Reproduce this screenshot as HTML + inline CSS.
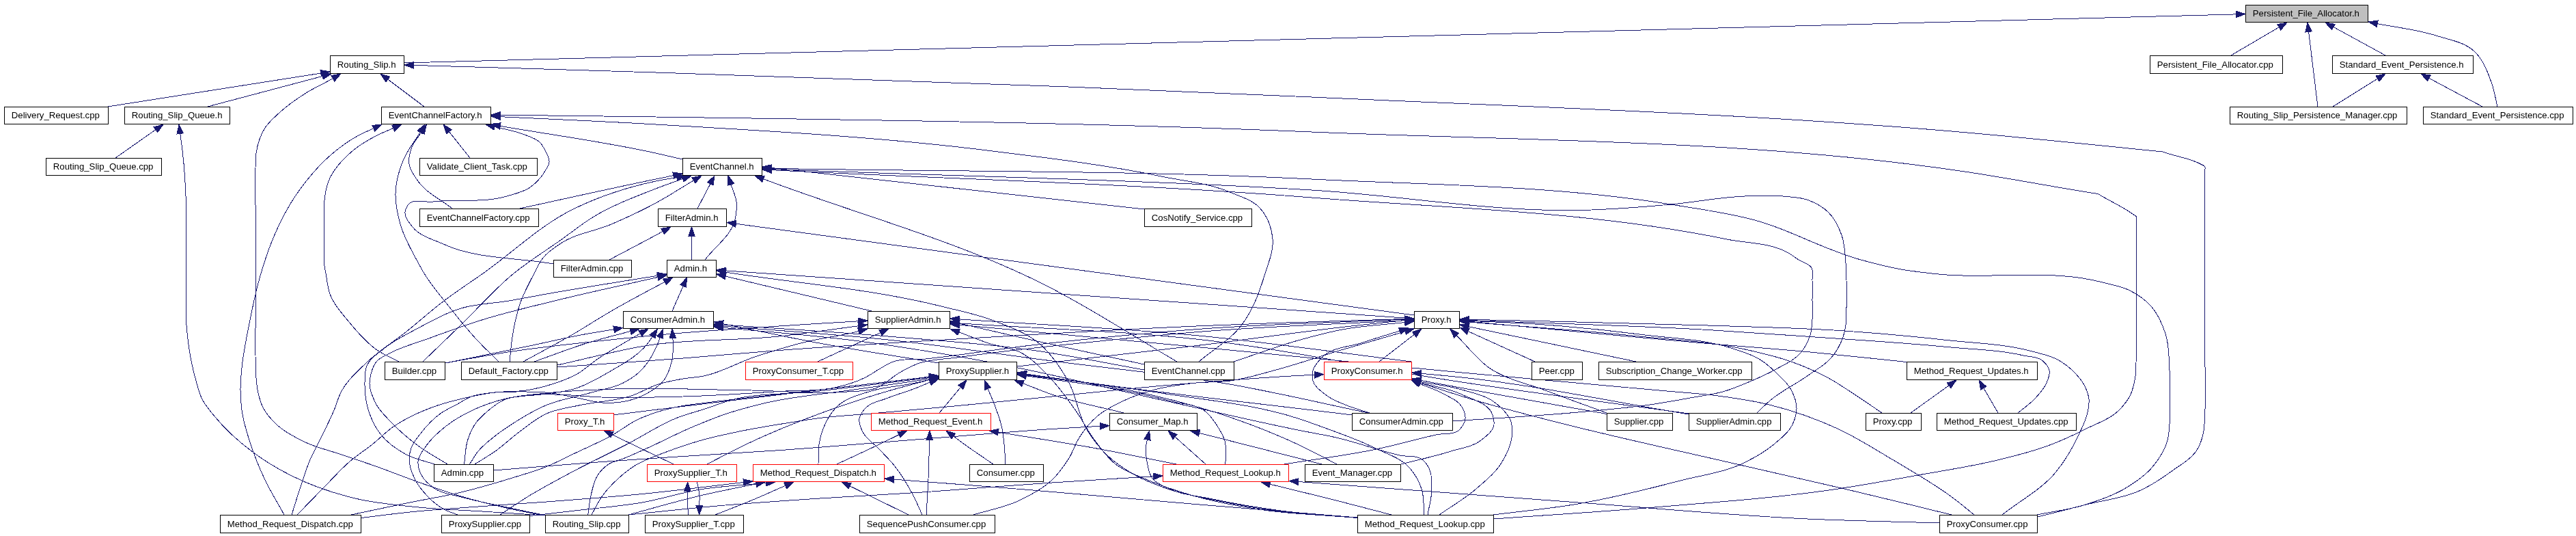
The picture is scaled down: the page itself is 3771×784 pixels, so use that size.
<!DOCTYPE html>
<html><head><meta charset="utf-8"><title>Persistent_File_Allocator.h included-by graph</title>
<style>html,body{margin:0;padding:0;background:#fff}svg{display:block;will-change:transform}text{font-family:"Liberation Sans",sans-serif;font-size:13.2px;fill:#000}</style></head><body>
<svg width="3771" height="784" viewBox="0 0 3771 784">
<rect width="3771" height="784" fill="#fff"/>
<g fill="none" stroke="#191970" stroke-width="1" shape-rendering="crispEdges">
<path d="M3266.0,81.0L3336.3,39.8"/>
<path d="M3393.0,156.0L3379.6,46.4"/>
<path d="M3492.0,81.0L3415.9,39.5"/>
<path d="M3656.0,156.0C3653.3,145.0 3651.7,133.7 3648.0,123.0C3642.0,105.8 3635.3,87.4 3622.0,75.0C3607.2,61.2 3585.2,58.2 3566.0,52.0C3538.2,43.0 3508.8,40.4 3480.2,34.7"/>
<path d="M3415.0,156.0L3480.5,115.1"/>
<path d="M3634.0,156.0L3555.9,114.4"/>
<path d="M592.0,92.0L3273.5,20.9"/>
<path d="M158.0,156.0L469.7,107.1"/>
<path d="M304.0,156.0L472.0,111.5"/>
<path d="M790.0,753.0C772.3,749.3 754.6,746.1 737.0,742.0C716.2,737.2 695.5,732.0 675.0,726.0C653.8,719.7 632.9,712.4 612.0,705.0C591.2,697.7 570.8,689.3 550.0,682.0C533.4,676.1 516.7,670.7 500.0,665.0C481.7,658.7 462.4,654.6 445.0,646.0C430.9,639.1 416.4,631.8 405.0,621.0C397.8,614.2 390.7,606.8 386.0,598.0C382.1,590.9 379.9,582.9 378.0,575.0C375.6,565.2 375.1,555.0 374.5,545.0C374.0,536.7 374.1,528.3 374.0,520.0C373.8,506.7 374.0,493.3 374.0,480.0C374.0,453.3 374.0,426.7 374.0,400.0C374.0,366.7 374.0,333.3 374.0,300.0C374.0,281.7 373.4,263.3 374.0,245.0C374.2,238.0 374.0,230.9 375.0,224.0C376.9,211.1 380.9,198.0 388.0,187.0C393.8,178.1 402.2,171.1 410.0,164.0C421.6,153.4 434.7,144.4 448.0,136.0C459.9,128.5 472.8,122.9 485.0,116.0C485.8,115.6 486.5,115.1 487.3,114.7"/>
<path d="M621.0,156.0L567.8,116.1"/>
<path d="M2983.0,756.0C3005.3,750.3 3027.7,744.8 3050.0,739.0C3078.7,731.5 3109.3,728.9 3136.0,716.0C3150.8,708.8 3164.7,699.7 3178.0,690.0C3192.3,679.5 3209.7,670.7 3218.0,655.0C3222.1,647.3 3224.5,638.6 3226.0,630.0C3227.2,623.4 3227.1,616.7 3227.5,610.0C3229.8,573.4 3227.5,536.7 3227.5,500.0C3227.5,433.3 3227.4,366.7 3227.5,300.0C3227.5,283.3 3227.6,266.7 3227.6,250.0C3227.6,247.8 3228.9,245.3 3227.6,243.5C3226.8,242.4 3225.2,242.0 3224.0,241.3C3208.3,232.0 3189.3,229.8 3172.0,224.0C3170.0,223.3 3168.1,222.5 3166.0,222.0C3163.7,221.5 3161.3,221.5 3159.0,221.3C3066.0,212.0 2973.1,202.2 2880.0,194.0C2560.8,165.9 2240.1,156.7 1920.0,142.0C1600.1,127.3 1280.1,116.2 960.0,106.0C841.8,102.2 723.7,98.9 605.5,95.4"/>
<path d="M169.0,231.0L227.9,189.7"/>
<path d="M798.0,754.0C767.3,752.0 736.7,750.0 706.0,748.0C675.0,746.0 643.9,745.1 613.0,742.0C581.9,738.8 550.4,736.4 520.0,729.0C488.0,721.3 456.4,710.7 427.0,696.0C407.5,686.2 388.5,675.0 371.0,662.0C350.6,646.8 331.2,629.7 315.0,610.0C308.2,601.7 300.8,593.6 296.0,584.0C291.7,575.5 289.6,566.1 287.0,557.0C282.0,539.7 278.5,521.9 276.0,504.0C274.3,491.7 273.0,479.4 272.5,467.0C272.1,458.0 272.5,449.0 272.5,440.0C272.5,420.0 272.5,400.0 272.5,380.0C272.5,356.7 272.9,333.3 272.5,310.0C272.4,302.3 272.3,294.7 272.0,287.0C271.2,264.6 269.6,242.2 267.0,220.0C266.0,211.8 264.8,203.6 263.8,195.4"/>
<path d="M416.0,753.0C406.3,735.3 395.5,718.2 387.0,700.0C379.4,683.7 372.6,667.1 367.0,650.0C361.6,633.6 356.3,617.1 354.0,600.0C352.7,590.4 352.1,580.7 352.0,571.0C351.9,560.0 352.9,549.0 354.0,538.0C356.0,517.8 360.1,497.9 364.0,478.0C369.1,451.8 374.4,425.6 382.0,400.0C386.2,385.9 390.6,371.7 396.0,358.0C406.8,330.7 419.9,303.9 437.0,280.0C453.7,256.6 473.1,234.4 496.0,217.0C505.2,210.0 514.8,203.5 525.0,198.0C532.1,194.2 539.5,191.2 546.8,187.7"/>
<path d="M584.0,529.0C573.3,523.3 562.0,518.8 552.0,512.0C536.1,501.0 523.2,486.0 511.0,471.0C500.5,458.2 488.7,445.5 483.0,430.0C479.5,420.4 478.8,410.0 477.0,400.0C476.1,395.0 475.0,390.0 474.5,385.0C473.6,376.7 474.5,368.3 474.5,360.0C474.5,346.7 474.5,333.3 474.5,320.0C474.5,313.3 474.1,306.7 474.5,300.0C474.8,295.0 475.2,290.0 476.0,285.0C477.1,278.2 478.6,271.4 481.0,265.0C487.7,247.0 502.3,232.4 517.0,220.0C527.5,211.1 539.7,204.3 552.0,198.0C559.7,194.1 567.8,191.0 575.7,187.5"/>
<path d="M730.0,529.0C719.3,518.3 708.3,508.1 698.0,497.0C683.5,481.4 670.2,464.7 657.0,448.0C644.6,432.3 631.3,417.1 621.0,400.0C617.8,394.8 614.9,389.4 612.0,384.0C602.2,365.9 591.6,347.8 586.0,328.0C581.9,313.4 578.6,298.2 579.0,283.0C579.5,266.6 583.8,250.2 590.0,235.0C596.1,220.0 606.7,207.4 615.0,193.6"/>
<path d="M662.0,305.0C645.3,291.7 624.2,282.5 612.0,265.0C606.7,257.3 600.3,249.3 599.0,240.0C597.8,231.6 600.0,222.9 603.0,215.0C606.1,206.9 612.4,200.5 617.1,193.3"/>
<path d="M688.0,231.0L657.4,192.6"/>
<path d="M810.0,386.0C756.3,376.3 698.6,379.7 649.0,357.0C633.4,349.9 614.4,345.6 604.0,332.0C599.0,325.5 591.9,318.1 593.0,310.0C593.5,306.4 595.0,303.0 597.0,300.0C604.0,289.7 621.6,296.5 634.0,295.0C669.8,290.7 707.4,297.4 742.0,287.0C753.6,283.5 766.1,281.0 776.0,274.0C784.9,267.8 792.5,259.4 798.0,250.0C800.4,245.9 803.6,241.8 804.0,237.0C804.6,231.0 800.7,225.4 798.0,220.0C796.0,216.1 793.9,212.2 791.0,209.0C784.5,201.8 774.0,199.6 765.0,196.0C751.9,190.8 737.7,188.9 724.1,185.4"/>
<path d="M999.0,233.0C986.0,230.0 973.0,226.9 960.0,224.0C884.8,207.3 808.2,197.5 732.3,184.3"/>
<path d="M2187.0,759.0C2265.3,753.3 2343.7,748.7 2422.0,742.0C2509.4,734.6 2597.2,728.7 2684.0,716.0C2725.5,709.9 2766.7,702.4 2808.0,695.0C2846.7,688.0 2885.8,682.4 2924.0,673.0C2948.9,666.9 2974.0,661.0 2998.0,652.0C3015.8,645.4 3033.1,637.6 3050.0,629.0C3068.9,619.4 3090.8,612.8 3105.0,597.0C3109.9,591.5 3114.6,585.6 3118.0,579.0C3122.6,570.1 3124.6,559.9 3126.0,550.0C3126.9,543.4 3126.7,536.7 3127.0,530.0C3128.1,503.4 3127.0,476.7 3127.0,450.0C3127.0,413.3 3127.0,376.7 3127.0,340.0C3127.0,334.3 3127.0,328.7 3127.0,323.0C3127.0,320.8 3128.2,318.3 3127.0,316.5C3126.3,315.5 3125.0,315.0 3124.0,314.3C3109.3,303.7 3092.8,296.0 3077.0,287.0C3075.0,285.9 3073.2,284.4 3071.0,283.6C3068.8,282.8 3066.3,282.9 3064.0,282.5C3002.6,272.8 2941.5,260.8 2880.0,251.6C2563.0,203.9 2240.3,206.4 1920.0,193.0C1600.2,179.6 1280.1,175.6 960.0,171.0C884.2,169.9 808.3,169.1 732.5,168.2"/>
<path d="M1755.0,529.0C1776.0,511.0 1801.4,497.1 1818.0,475.0C1834.5,453.0 1844.0,426.3 1852.0,400.0C1857.0,383.7 1864.6,367.0 1863.0,350.0C1861.5,333.5 1855.3,316.2 1844.0,304.0C1833.5,292.6 1817.2,288.2 1803.0,282.0C1770.7,267.9 1734.5,265.2 1700.0,258.0C1615.9,240.5 1530.3,230.6 1445.0,220.0C1284.1,200.0 1121.9,191.5 960.0,182.0C884.2,177.5 808.3,174.4 732.5,170.7"/>
<path d="M1021.0,305.0L1039.8,269.0"/>
<path d="M1032.0,380.0C1046.7,360.3 1070.6,344.9 1076.0,321.0C1077.9,312.5 1079.0,303.6 1078.0,295.0C1077.0,286.3 1072.7,278.2 1070.1,269.9"/>
<path d="M761.0,305.0C827.3,290.7 893.5,275.7 960.0,262.0C968.6,260.2 977.2,258.5 985.8,256.7"/>
<path d="M427.0,753.0C431.3,739.3 435.4,725.6 440.0,712.0C444.7,697.9 448.9,683.6 455.0,670.0C458.1,663.2 461.7,656.7 465.0,650.0C473.2,633.4 481.8,617.0 489.0,600.0C492.9,590.8 495.2,580.8 500.0,572.0C508.9,555.6 523.6,542.9 537.0,530.0C554.6,513.0 575.9,500.3 595.0,485.0C613.5,470.2 631.1,454.3 650.0,440.0C668.5,426.0 688.0,413.4 707.0,400.0C751.2,368.9 790.5,329.8 839.0,306.0C877.2,287.3 918.3,273.8 960.0,265.0C970.2,262.8 980.5,261.3 990.7,259.4"/>
<path d="M619.0,529.0C636.7,512.0 654.4,495.0 672.0,478.0C698.8,452.1 723.1,423.5 752.0,400.0C773.9,382.2 798.0,367.3 821.0,351.0C837.0,339.7 852.2,327.2 869.0,317.0C897.5,299.8 929.0,288.1 960.0,276.0C973.0,270.9 986.2,266.4 999.3,261.6"/>
<path d="M746.0,529.0C747.3,517.0 748.1,504.9 750.0,493.0C752.6,476.8 755.7,460.5 761.0,445.0C766.4,429.3 774.2,414.6 782.0,400.0C786.1,392.2 789.5,383.8 795.0,377.0C802.0,368.3 811.7,362.2 821.0,356.0C843.0,341.4 870.8,338.4 895.0,328.0C917.1,318.5 938.9,308.4 960.0,297.0C978.9,286.8 996.9,274.9 1015.4,263.9"/>
<path d="M1723.0,529.0C1660.7,492.7 1600.2,452.9 1536.0,420.0C1403.3,352.0 1257.1,314.5 1117.6,261.8"/>
<path d="M1675.0,306.0L1129.4,245.5"/>
<path d="M2982.0,753.0C3004.7,748.3 3027.9,745.7 3050.0,739.0C3070.6,732.7 3091.5,726.0 3110.0,715.0C3124.9,706.1 3139.9,696.3 3151.0,683.0C3160.6,671.5 3169.2,658.4 3173.0,644.0C3175.1,636.2 3175.4,628.0 3176.0,620.0C3176.5,613.3 3176.4,606.7 3176.5,600.0C3176.7,586.7 3176.8,573.3 3176.5,560.0C3176.4,554.0 3176.3,548.0 3176.0,542.0C3175.1,523.9 3175.6,505.2 3170.0,488.0C3165.3,473.7 3159.0,459.3 3149.0,448.0C3140.5,438.4 3129.5,430.8 3118.0,425.0C3105.6,418.7 3091.5,416.5 3078.0,413.0C2997.3,391.8 2910.8,410.0 2828.0,400.0C2813.0,398.2 2797.9,396.6 2783.0,394.0C2763.1,390.5 2743.5,385.3 2724.0,380.0C2669.4,365.2 2619.7,335.2 2565.0,321.0C2526.0,310.8 2485.8,305.5 2446.0,299.0C2272.5,270.7 2095.5,270.8 1920.0,262.0C1656.8,248.8 1393.0,251.5 1129.5,246.3"/>
<path d="M2572.0,604.0C2578.3,598.0 2584.4,591.7 2591.0,586.0C2608.0,571.4 2628.9,562.1 2647.0,549.0C2658.6,540.6 2671.9,534.0 2681.0,523.0C2688.4,514.2 2694.3,503.9 2698.0,493.0C2700.4,485.9 2701.7,478.4 2702.5,471.0C2703.3,464.0 2702.9,457.0 2703.0,450.0C2703.2,436.7 2703.3,423.3 2703.0,410.0C2702.8,401.7 2702.7,393.3 2702.0,385.0C2700.9,371.2 2700.6,357.0 2696.0,344.0C2691.7,332.0 2686.0,320.0 2677.0,311.0C2669.0,302.9 2658.6,297.1 2648.0,293.0C2636.0,288.4 2622.8,288.2 2610.0,287.0C2591.4,285.3 2572.7,286.3 2554.0,287.0C2517.8,288.4 2482.1,295.7 2446.0,299.0C2407.4,302.5 2368.7,305.5 2330.0,307.0C2193.1,312.2 2056.8,286.2 1920.0,278.0C1656.8,262.3 1393.0,257.7 1129.5,247.5"/>
<path d="M2127.0,616.0C2188.0,611.7 2249.1,608.6 2310.0,603.0C2345.0,599.8 2380.2,597.0 2415.0,592.0C2436.7,588.9 2458.4,584.9 2480.0,581.0C2494.0,578.4 2508.3,576.8 2522.0,573.0C2535.7,569.2 2548.9,563.6 2562.0,558.0C2574.9,552.5 2587.8,546.9 2600.0,540.0C2612.9,532.7 2627.7,526.7 2637.0,515.0C2642.8,507.6 2647.3,499.0 2650.0,490.0C2652.2,482.6 2652.5,474.7 2653.0,467.0C2653.6,458.0 2653.0,449.0 2653.0,440.0C2653.0,430.0 2653.3,420.0 2653.0,410.0C2652.8,404.0 2654.7,397.3 2652.0,392.0C2648.6,385.3 2639.3,384.1 2633.0,380.0C2628.0,376.7 2623.2,373.0 2618.0,370.0C2591.5,354.5 2558.1,356.2 2528.0,350.0C2328.5,308.9 2123.1,305.0 1920.0,289.0C1657.0,268.3 1393.0,262.1 1129.5,248.7"/>
<path d="M892.0,380.0C914.7,368.0 937.5,356.2 960.0,344.0C963.4,342.2 966.8,340.3 970.1,338.5"/>
<path d="M1012.5,380.0L1012.5,345.5"/>
<path d="M2070.0,461.0L1077.4,327.3"/>
<path d="M984.0,455.0L1000.1,418.4"/>
<path d="M1276.0,455.0L1062.1,404.1"/>
<path d="M766.0,529.0C789.7,516.0 813.6,503.5 837.0,490.0C858.2,477.7 878.7,464.1 900.0,452.0C913.2,444.5 926.6,437.2 940.0,430.0C951.0,424.1 962.1,418.2 973.1,412.4"/>
<path d="M636.0,679.0C622.3,674.3 607.7,671.8 595.0,665.0C580.8,657.4 566.9,647.8 557.0,635.0C550.1,626.0 544.9,615.7 541.0,605.0C535.8,590.7 533.7,575.2 534.0,560.0C534.2,551.6 533.8,542.7 537.0,535.0C541.5,524.1 552.9,517.5 562.0,510.0C577.0,497.6 594.9,489.2 612.0,480.0C632.4,469.1 652.9,457.7 675.0,451.0C697.6,444.1 721.7,444.0 745.0,440.0C763.4,436.9 781.7,433.3 800.0,430.0C854.1,420.4 908.5,412.1 962.7,403.2"/>
<path d="M655.0,679.0C640.7,670.0 625.6,662.1 612.0,652.0C598.9,642.3 586.3,631.7 575.0,620.0C566.0,610.6 555.9,601.6 550.0,590.0C545.3,580.7 540.8,570.4 541.0,560.0C541.1,555.6 541.9,551.2 543.0,547.0C544.7,540.7 546.8,534.1 551.0,529.0C555.8,523.2 563.5,520.6 570.0,517.0C587.1,507.4 606.6,502.8 625.0,496.0C653.8,485.4 682.7,474.9 712.0,466.0C744.9,456.0 778.6,448.3 812.0,440.0C862.1,427.6 912.6,417.0 962.8,405.5"/>
<path d="M2070.0,466.0L1062.5,395.9"/>
<path d="M652.0,531.0C693.0,522.7 734.1,514.6 775.0,506.0C800.0,500.8 824.9,494.7 850.0,490.0C866.2,487.0 882.5,484.5 898.7,481.8"/>
<path d="M782.0,529.0C808.7,519.7 835.0,509.2 862.0,501.0C882.1,494.9 902.6,490.0 923.0,484.5"/>
<path d="M670.0,753.0C663.3,750.3 656.3,748.4 650.0,745.0C640.6,739.9 632.3,732.8 625.0,725.0C617.9,717.5 611.4,709.3 607.0,700.0C602.8,691.2 598.9,681.7 599.0,672.0C599.0,666.2 600.1,660.4 602.0,655.0C604.7,647.5 610.2,641.3 615.0,635.0C623.8,623.4 634.0,612.3 646.0,604.0C652.9,599.3 660.7,596.0 668.0,592.0C675.3,588.0 682.2,582.9 690.0,580.0C698.0,577.1 706.6,576.2 715.0,575.0C728.5,573.1 742.3,573.1 756.0,573.0C773.3,572.8 790.8,572.8 808.0,575.0C820.5,576.6 832.7,579.7 845.0,582.0C857.3,584.3 869.5,588.3 882.0,589.0C894.7,589.7 907.7,589.1 920.0,586.0C929.7,583.6 939.3,580.0 948.0,575.0C956.9,569.9 965.9,564.2 972.0,556.0C977.6,548.5 980.7,539.1 983.0,530.0C985.7,519.3 985.6,508.0 985.0,497.0C985.0,496.2 984.9,495.3 984.8,494.5"/>
<path d="M1374.0,531.0C1317.7,521.7 1261.2,513.3 1205.0,503.0C1155.9,494.0 1107.2,483.4 1058.2,473.6"/>
<path d="M1675.0,541.0C1620.0,531.3 1565.3,519.7 1510.0,512.0C1440.4,502.3 1370.1,497.9 1300.0,492.0C1219.6,485.3 1139.0,480.6 1058.5,475.0"/>
<path d="M2003.0,604.0C1935.3,590.0 1868.1,573.8 1800.0,562.0C1713.9,547.1 1626.7,539.3 1540.0,528.0C1460.0,517.6 1380.2,505.5 1300.0,497.0C1219.7,488.5 1139.0,483.7 1058.5,477.1"/>
<path d="M2090.0,753.0C2092.0,740.3 2096.1,727.8 2096.0,715.0C2095.9,704.9 2096.6,694.0 2092.0,685.0C2089.7,680.6 2086.8,676.3 2083.0,673.0C2074.3,665.4 2060.3,668.5 2049.0,666.0C2017.6,658.9 1987.4,647.1 1956.0,640.0C1937.4,635.8 1918.6,632.8 1900.0,629.0C1833.1,615.5 1766.7,599.7 1700.0,585.0C1616.7,566.7 1533.9,545.6 1450.0,530.0C1383.6,517.6 1317.0,506.6 1250.0,498.0C1186.4,489.9 1122.3,485.5 1058.4,479.3"/>
<path d="M652.0,531.0C684.7,525.3 717.2,518.9 750.0,514.0C791.5,507.8 833.3,503.5 875.0,499.0C908.3,495.4 941.6,492.0 975.0,489.0C1029.9,484.1 1085.0,480.6 1140.0,477.0C1178.8,474.4 1217.7,472.2 1256.5,469.8"/>
<path d="M816.0,534.0C860.7,524.3 904.8,511.9 950.0,505.0C1012.7,495.4 1076.9,498.7 1140.0,492.0C1179.0,487.8 1217.7,481.8 1256.6,476.8"/>
<path d="M1197.0,529.0L1288.7,486.7"/>
<path d="M1675.0,533.0C1616.7,520.3 1558.2,508.1 1500.0,495.0C1468.0,487.8 1436.1,480.3 1404.2,473.0"/>
<path d="M2066.0,529.0C1964.0,516.5 1862.3,501.5 1760.0,491.5C1641.8,479.9 1523.0,475.1 1404.5,466.9"/>
<path d="M2472.0,605.0C2361.3,589.7 2250.5,575.6 2140.0,559.0C2013.1,540.0 1887.5,511.5 1760.0,497.0C1642.0,483.6 1523.0,480.9 1404.5,472.9"/>
<path d="M2890.0,753.0C2880.0,745.0 2870.2,736.7 2860.0,729.0C2831.6,707.6 2800.5,690.2 2770.0,672.0C2743.7,656.4 2717.8,639.8 2690.0,627.0C2657.9,612.3 2624.3,600.4 2590.0,592.0C2565.4,586.0 2540.2,582.3 2515.0,579.0C2490.1,575.7 2465.0,574.3 2440.0,572.0C2340.0,562.7 2240.0,554.3 2140.0,545.0C2026.6,534.4 1913.4,522.8 1800.0,512.0C1668.2,499.5 1536.3,487.5 1404.4,475.2"/>
<path d="M1987.0,757.0C1941.3,753.3 1895.3,752.7 1850.0,746.0C1816.4,741.0 1782.7,735.2 1750.0,726.0C1724.5,718.8 1699.2,710.7 1675.0,700.0C1660.7,693.7 1645.3,688.6 1633.0,679.0C1621.5,670.0 1612.9,657.6 1604.0,646.0C1593.1,631.8 1585.3,615.6 1575.0,601.0C1564.6,586.2 1554.2,571.3 1542.0,558.0C1527.3,542.0 1512.4,524.7 1493.0,515.0C1478.7,507.9 1462.1,507.0 1447.0,502.0C1432.3,497.2 1418.1,491.2 1403.6,485.7"/>
<path d="M1987.0,757.5C1949.7,754.3 1912.2,752.8 1875.0,748.0C1841.5,743.7 1808.1,738.0 1775.0,731.0C1753.9,726.5 1732.5,722.9 1712.0,716.0C1691.6,709.1 1671.2,701.4 1653.0,690.0C1641.3,682.7 1629.9,674.6 1620.0,665.0C1609.2,654.6 1600.0,642.6 1592.0,630.0C1577.8,607.6 1576.4,578.9 1563.0,556.0C1551.7,536.7 1539.0,517.4 1522.0,503.0C1502.8,486.7 1478.1,478.1 1454.6,469.0C1430.5,459.7 1405.0,454.8 1380.0,448.5C1276.0,422.3 1168.2,414.9 1062.3,398.1"/>
<path d="M816.0,537.0C877.3,532.7 938.7,528.7 1000.0,524.0C1046.7,520.4 1093.3,516.0 1140.0,512.5C1226.6,506.0 1313.3,501.2 1400.0,496.0C1520.0,488.9 1639.9,481.8 1760.0,476.6C1858.8,472.3 1957.7,469.8 2056.5,466.5"/>
<path d="M2019.0,529.0L2070.3,489.3"/>
<path d="M2005.0,604.0C1995.7,601.0 1986.1,598.5 1977.0,595.0C1964.2,590.0 1950.6,585.7 1940.0,577.0C1933.1,571.3 1924.3,565.7 1922.0,557.0C1920.7,552.2 1920.8,546.9 1922.0,542.0C1923.8,534.5 1929.7,528.6 1935.0,523.0C1949.7,507.6 1974.8,507.8 1995.0,501.0C2012.9,494.9 2031.1,489.7 2049.1,484.0"/>
<path d="M2352.0,604.0C2323.0,593.3 2293.8,583.1 2265.0,572.0C2236.5,561.1 2205.0,555.5 2180.0,538.0C2161.6,525.1 2148.1,506.3 2132.1,490.5"/>
<path d="M2247.0,529.0L2149.3,484.6"/>
<path d="M2395.0,529.0L2150.2,477.8"/>
<path d="M2931.0,753.0C2957.3,732.0 2988.8,716.1 3010.0,690.0C3023.3,673.6 3034.1,655.1 3043.0,636.0C3048.0,625.3 3053.7,614.6 3056.0,603.0C3057.3,596.8 3058.6,590.3 3058.0,584.0C3057.4,577.4 3054.9,571.0 3052.0,565.0C3048.3,557.5 3042.8,551.0 3037.0,545.0C3029.7,537.5 3021.2,531.0 3012.0,526.0C3000.6,519.8 2987.5,517.5 2975.0,514.0C2934.5,502.8 2891.8,502.2 2850.0,497.5C2800.1,491.9 2750.1,487.4 2700.0,484.0C2633.4,479.4 2566.7,478.3 2500.0,476.0C2383.5,472.0 2267.0,470.2 2150.5,467.3"/>
<path d="M2954.0,604.0C2962.0,597.3 2970.8,591.6 2978.0,584.0C2984.9,576.7 2992.3,569.3 2996.0,560.0C2998.3,554.3 3001.2,548.0 3000.0,542.0C2998.8,536.2 2994.5,531.3 2990.0,527.5C2982.6,521.2 2971.4,522.2 2962.0,520.0C2925.4,511.4 2887.4,511.2 2850.0,507.5C2783.5,501.0 2716.7,497.2 2650.0,492.5C2600.0,489.0 2550.0,485.4 2500.0,482.5C2383.6,475.7 2267.0,473.2 2150.5,468.5"/>
<path d="M2791.0,529.5C2744.0,524.7 2697.0,519.4 2650.0,515.0C2600.0,510.3 2550.0,506.8 2500.0,502.5C2383.4,492.5 2267.0,481.0 2150.4,470.2"/>
<path d="M2755.0,604.0C2741.7,595.0 2728.5,585.8 2715.0,577.0C2701.8,568.4 2688.9,559.4 2675.0,552.0C2658.9,543.4 2642.1,536.3 2625.0,530.0C2600.7,521.1 2575.3,515.5 2550.0,510.0C2500.8,499.4 2450.1,497.3 2400.0,492.0C2317.0,483.2 2233.6,478.1 2150.5,471.1"/>
<path d="M2186.0,753.0C2227.3,747.7 2268.9,744.1 2310.0,737.0C2360.5,728.3 2410.4,715.9 2460.0,703.0C2491.2,694.9 2524.1,691.2 2553.0,677.0C2568.9,669.2 2584.6,660.5 2598.0,649.0C2607.6,640.7 2618.5,632.5 2624.0,621.0C2627.4,613.8 2629.9,605.9 2630.0,598.0C2630.2,588.3 2626.5,578.6 2622.0,570.0C2616.8,560.2 2608.0,552.6 2600.0,545.0C2592.3,537.6 2584.1,530.5 2575.0,525.0C2563.3,518.0 2549.9,514.3 2537.0,510.0C2494.8,495.8 2449.2,495.3 2405.0,489.6C2355.5,483.2 2305.8,478.2 2256.0,474.6C2220.9,472.1 2185.7,471.0 2150.5,469.2"/>
<path d="M2797.0,604.0L2853.0,563.9"/>
<path d="M2925.0,604.0L2903.8,567.7"/>
<path d="M1375.0,604.0L1406.4,566.4"/>
<path d="M1472.0,679.0C1471.3,669.3 1471.0,659.6 1470.0,650.0C1469.2,642.3 1468.5,634.6 1467.0,627.0C1464.8,616.0 1460.8,605.5 1457.0,595.0C1453.7,586.0 1449.7,577.3 1446.1,568.5"/>
<path d="M1645.0,604.0C1610.0,595.0 1574.2,588.8 1540.0,577.0C1525.7,572.1 1511.7,566.2 1497.6,560.8"/>
<path d="M1198.0,679.0C1198.3,669.3 1197.5,659.6 1199.0,650.0C1200.2,642.2 1202.1,634.4 1205.0,627.0C1209.6,615.3 1216.0,603.8 1225.0,595.0C1238.1,582.1 1257.5,577.5 1275.0,572.0C1292.8,566.4 1311.7,565.6 1330.0,562.0C1340.3,560.0 1350.5,557.8 1360.8,555.7"/>
<path d="M1350.0,753.0C1345.7,743.7 1341.8,734.1 1337.0,725.0C1329.2,710.0 1320.5,695.3 1310.0,682.0C1303.0,673.1 1294.7,665.3 1287.0,657.0C1278.7,648.0 1266.7,641.3 1262.0,630.0C1259.6,624.3 1256.9,618.1 1258.0,612.0C1258.9,606.7 1262.5,602.1 1266.0,598.0C1274.1,588.4 1288.4,586.8 1300.0,582.0C1313.1,576.6 1326.8,573.1 1340.0,568.0C1347.2,565.2 1354.3,562.1 1361.5,559.1"/>
<path d="M1035.0,679.0C1054.0,669.3 1072.7,659.2 1092.0,650.0C1127.2,633.3 1163.4,618.5 1200.0,605.0C1232.9,592.8 1266.3,581.9 1300.0,572.0C1320.2,566.1 1340.6,561.0 1361.0,555.5"/>
<path d="M1794.0,679.0C1793.7,667.7 1796.1,655.9 1793.0,645.0C1790.4,636.0 1785.3,627.8 1780.0,620.0C1775.6,613.5 1771.0,607.0 1765.0,602.0C1751.7,590.8 1731.8,591.5 1715.0,587.0C1690.3,580.3 1665.2,574.9 1640.0,570.0C1606.9,563.6 1573.4,559.7 1540.0,555.0C1527.5,553.2 1514.9,551.6 1502.4,549.8"/>
<path d="M1957.0,679.0C1938.0,669.3 1919.3,659.0 1900.0,650.0C1867.5,634.8 1833.9,621.7 1800.0,610.0C1751.1,593.2 1700.7,580.4 1650.0,570.0C1601.3,560.0 1551.6,555.3 1502.4,548.0"/>
<path d="M1979.0,607.0C1832.7,588.8 1685.9,573.7 1540.0,552.5C1527.4,550.7 1514.9,548.8 1502.4,547.0"/>
<path d="M2085.0,753.0C2083.7,740.3 2085.0,727.1 2081.0,715.0C2077.4,704.1 2071.5,693.7 2064.0,685.0C2051.0,669.8 2029.9,663.9 2012.0,655.0C1987.9,643.0 1962.3,634.3 1937.0,625.0C1924.7,620.5 1912.4,616.0 1900.0,612.0C1835.5,591.1 1767.0,585.6 1700.0,575.0C1634.4,564.6 1568.3,557.5 1502.4,548.8"/>
<path d="M1880.0,679.0C1925.0,671.7 1970.4,666.4 2015.0,657.0C2044.2,650.9 2072.9,642.7 2102.0,636.0C2113.7,633.3 2128.9,636.8 2137.0,628.0C2141.1,623.6 2144.5,617.9 2145.0,612.0C2145.5,606.1 2143.0,600.1 2140.0,595.0C2134.9,586.1 2123.9,582.2 2115.0,577.0C2103.5,570.3 2090.6,566.5 2078.4,561.3"/>
<path d="M2051.0,679.0C2075.3,672.7 2100.1,667.7 2124.0,660.0C2138.8,655.2 2155.8,653.8 2168.0,644.0C2175.8,637.8 2185.8,630.9 2187.0,621.0C2187.6,616.3 2186.4,611.5 2185.0,607.0C2179.6,589.8 2156.3,584.8 2140.0,577.0C2120.9,567.9 2099.3,565.5 2079.0,559.7"/>
<path d="M2107.0,753.0C2125.0,740.3 2144.4,729.4 2161.0,715.0C2174.3,703.4 2188.7,692.1 2198.0,677.0C2205.0,665.7 2211.5,653.2 2213.0,640.0C2213.9,632.4 2214.2,624.3 2212.0,617.0C2208.6,605.9 2199.0,597.4 2190.0,590.0C2176.1,578.6 2157.2,575.1 2140.0,570.0C2120.3,564.1 2099.5,562.3 2079.3,558.5"/>
<path d="M2352.0,605.5C2281.3,592.8 2210.6,580.5 2140.0,567.5C2120.1,563.8 2100.2,560.1 2080.3,556.5"/>
<path d="M2472.0,606.0C2361.3,588.0 2251.5,563.8 2140.0,552.0C2120.2,549.9 2100.3,548.2 2080.4,546.3"/>
<path d="M2857.0,753.0C2804.7,740.3 2752.4,727.3 2700.0,715.0C2644.7,702.0 2589.3,689.8 2534.0,677.0C2446.9,656.9 2359.5,638.3 2273.0,616.0C2235.6,606.4 2198.1,596.9 2161.0,586.0C2133.5,577.9 2106.2,568.7 2078.9,560.1"/>
<path d="M986.0,679.0L896.2,635.8"/>
<path d="M1225.0,679.0C1245.7,669.3 1266.4,659.9 1287.0,650.0C1296.6,645.4 1306.2,640.6 1315.9,635.9"/>
<path d="M1356.0,753.0C1357.0,735.3 1358.2,717.7 1359.0,700.0C1359.8,681.2 1360.1,662.3 1360.6,643.5"/>
<path d="M1454.0,679.0C1440.0,669.3 1425.8,660.0 1412.0,650.0C1406.6,646.1 1401.2,642.0 1395.8,638.0"/>
<path d="M1722.0,679.0C1681.3,671.0 1640.8,662.4 1600.0,655.0C1553.9,646.6 1507.5,639.8 1461.3,632.2"/>
<path d="M723.0,688.0C773.7,684.0 824.3,679.7 875.0,676.0C916.7,673.0 958.3,670.2 1000.0,667.5C1046.7,664.4 1093.4,661.9 1140.0,658.7C1219.4,653.2 1298.7,646.2 1378.0,640.0C1432.0,635.8 1486.0,631.0 1540.0,627.5C1563.5,626.0 1587.0,624.7 1610.5,623.3"/>
<path d="M1987.0,757.0C1949.7,753.7 1912.2,751.9 1875.0,747.0C1841.5,742.6 1808.1,737.0 1775.0,730.0C1753.9,725.5 1731.5,724.3 1712.0,715.0C1703.2,710.8 1692.9,707.7 1687.0,700.0C1681.7,693.0 1680.5,683.6 1679.0,675.0C1677.6,666.8 1676.6,658.2 1678.0,650.0C1678.4,647.7 1679.0,645.4 1679.5,643.2"/>
<path d="M1765.0,679.0L1720.1,639.0"/>
<path d="M1935.0,679.0L1755.6,633.3"/>
<path d="M1008.0,753.0C1007.3,745.3 1006.1,737.7 1006.0,730.0C1006.0,726.2 1006.2,722.3 1006.3,718.5"/>
<path d="M1020.5,705.0C1021.7,711.7 1023.6,718.2 1024.0,725.0C1024.3,729.8 1023.9,734.7 1023.8,739.5"/>
<path d="M529.0,757.5C552.7,754.7 576.3,751.4 600.0,749.0C633.3,745.6 666.7,743.5 700.0,741.0C733.3,738.5 766.7,736.5 800.0,734.0C846.7,730.5 893.4,727.1 940.0,722.5C989.6,717.7 1039.1,711.2 1088.6,705.5"/>
<path d="M776.0,754.5C800.7,751.7 825.3,748.9 850.0,746.0C880.0,742.5 910.2,740.2 940.0,735.0C968.6,730.0 996.4,720.7 1025.0,716.0C1056.9,710.7 1089.4,709.6 1121.6,706.3"/>
<path d="M920.0,753.0C955.0,743.7 989.7,733.3 1025.0,725.0C1052.1,718.6 1079.5,713.5 1106.8,707.8"/>
<path d="M1047.0,753.0C1064.7,746.0 1082.5,739.3 1100.0,732.0C1116.7,725.1 1133.1,717.6 1149.6,710.4"/>
<path d="M1330.0,753.0L1244.1,710.9"/>
<path d="M1987.0,757.0C1908.0,750.5 1829.0,744.1 1750.0,737.5C1666.7,730.5 1583.4,722.8 1500.0,716.0C1436.2,710.8 1372.3,706.0 1308.5,701.1"/>
<path d="M920.0,753.0C963.3,748.7 1006.6,743.8 1050.0,740.0C1099.9,735.6 1150.0,732.3 1200.0,729.0C1250.0,725.7 1300.0,723.4 1350.0,720.0C1383.3,717.7 1416.7,715.0 1450.0,712.5C1480.0,710.3 1510.0,708.0 1540.0,706.0C1589.5,702.6 1639.0,699.9 1688.5,696.8"/>
<path d="M2037.0,753.0C2004.7,744.7 1972.4,736.1 1940.0,728.0C1913.1,721.3 1886.1,714.8 1859.1,708.2"/>
<path d="M2839.0,765.0C2774.7,763.0 2710.3,761.9 2646.0,759.0C2533.8,753.9 2422.0,743.2 2310.0,735.0C2173.5,725.1 2037.0,714.7 1900.5,704.5"/>
<path d="M435.0,753.0C448.3,739.3 461.6,725.6 475.0,712.0C487.3,699.6 498.8,686.4 512.0,675.0C522.5,666.0 534.2,658.6 545.0,650.0C555.5,641.6 564.9,631.7 576.0,624.0C593.2,612.1 612.5,603.3 632.0,596.0C646.6,590.5 661.8,586.6 677.0,583.0C692.5,579.3 708.2,576.0 724.0,574.0C739.2,572.1 754.8,573.4 770.0,571.0C782.9,569.0 795.6,565.9 808.0,562.0C820.7,558.0 833.4,553.5 845.0,547.0C855.8,540.9 864.7,532.0 875.0,525.0C891.1,514.1 908.2,504.8 925.0,495.0C929.1,492.6 933.2,490.2 937.3,487.8"/>
<path d="M798.0,753.7C777.7,749.5 757.3,745.4 737.0,741.0C716.3,736.5 695.4,732.7 675.0,727.0C662.2,723.4 648.1,722.4 637.0,715.0C629.2,709.8 621.3,703.4 617.0,695.0C613.9,688.9 611.5,681.9 612.0,675.0C612.6,666.4 619.1,659.1 624.0,652.0C631.5,641.1 641.7,632.2 652.0,624.0C664.7,613.8 679.2,605.8 694.0,599.0C709.0,592.1 724.9,586.8 741.0,583.0C760.3,578.4 780.4,579.0 800.0,576.0C813.4,574.0 827.0,572.9 840.0,569.0C857.7,563.7 874.1,554.4 890.0,545.0C911.6,532.3 935.5,520.4 950.0,500.0C951.8,497.5 953.4,494.9 955.1,492.3"/>
<path d="M679.5,679.0C681.3,666.8 681.0,654.1 685.0,642.5C688.0,633.7 691.9,624.9 697.5,617.5C701.8,611.9 707.2,607.1 712.5,602.5C720.2,595.8 728.2,589.2 737.5,585.0C748.2,580.2 760.3,579.4 772.0,578.0C785.2,576.4 798.7,576.9 812.0,577.0C834.7,577.1 857.3,580.2 880.0,581.0C920.0,582.4 960.0,581.1 1000.0,580.0C1050.1,578.6 1100.0,575.0 1150.0,572.0C1173.3,570.6 1197.1,572.5 1220.0,567.5C1236.1,564.0 1252.3,559.5 1267.0,552.0C1273.9,548.5 1280.3,543.9 1287.0,540.0C1292.9,536.6 1298.7,532.6 1305.0,530.0C1320.5,523.6 1338.3,526.8 1355.0,525.0C1406.8,519.5 1458.3,511.0 1510.0,505.0C1593.2,495.3 1676.5,487.1 1760.0,481.0C1858.7,473.8 1957.7,471.8 2056.5,467.1"/>
<path d="M687.5,679.0C691.7,672.7 695.2,665.9 700.0,660.0C707.1,651.3 716.2,644.5 725.0,637.5C733.0,631.2 741.5,625.5 750.0,620.0C766.0,609.7 782.4,599.8 800.0,592.5C820.0,584.2 841.7,581.0 862.5,575.0C879.2,570.1 897.1,568.1 912.5,560.0C920.5,555.8 928.3,551.0 935.0,545.0C947.0,534.3 955.7,519.8 962.0,505.0C963.6,501.3 964.8,497.4 966.3,493.6"/>
<path d="M695.0,679.0C705.0,672.7 715.3,666.8 725.0,660.0C738.1,650.8 749.6,639.4 762.5,630.0C774.6,621.1 786.3,611.2 800.0,605.0C815.6,597.9 833.2,596.2 850.0,592.5C874.8,587.0 900.9,586.9 925.0,578.7C937.9,574.3 949.5,566.7 962.5,562.5C974.7,558.6 987.4,556.2 1000.0,554.0C1009.9,552.3 1020.1,551.9 1030.0,550.0C1056.2,544.9 1079.7,530.4 1105.0,522.0C1129.7,513.8 1154.7,506.2 1180.0,500.0C1204.8,493.9 1230.4,491.5 1255.0,485.0C1255.7,484.8 1256.3,484.7 1257.0,484.5"/>
<path d="M899.0,606.8C944.7,601.2 990.3,595.6 1036.0,590.0C1144.2,576.8 1252.4,564.1 1360.6,551.1"/>
<path d="M514.0,753.0C542.7,747.0 571.3,740.9 600.0,735.0C625.0,729.9 650.2,725.9 675.0,720.0C700.2,714.0 725.2,706.7 750.0,699.0C766.8,693.8 783.7,689.1 800.0,682.5C813.7,677.0 826.7,670.0 840.0,663.7C858.7,654.8 877.9,646.7 896.0,636.6C908.6,629.6 920.0,620.2 933.0,614.0C942.0,609.7 951.5,606.1 961.0,603.0C973.3,599.0 985.9,596.0 998.6,593.7C1007.9,592.0 1017.3,591.2 1026.6,590.0C1084.3,582.5 1142.2,576.7 1200.0,570.0C1253.5,563.8 1307.1,557.7 1360.6,551.5"/>
<path d="M732.0,753.0C746.3,743.7 760.4,733.9 775.0,725.0C791.3,715.1 808.2,706.1 825.0,697.0C830.0,694.3 835.0,691.6 840.0,689.0C865.7,675.4 892.1,663.1 918.0,649.7C941.8,637.4 964.2,622.2 989.0,612.0C1007.2,604.6 1026.6,600.6 1045.0,593.7C1048.2,592.5 1051.4,591.2 1054.6,590.0C1100.4,573.2 1151.5,577.9 1200.0,572.0C1253.5,565.5 1307.1,559.1 1360.6,552.6"/>
<path d="M860.7,753.0C862.1,743.7 862.8,734.2 865.0,725.0C867.4,714.7 869.2,703.8 875.0,695.0C879.0,689.0 884.1,683.6 890.0,679.5C897.2,674.5 906.5,673.3 914.6,670.0C927.2,664.8 939.6,659.0 952.0,653.4C970.8,644.9 989.0,635.2 1008.0,627.0C1026.4,619.1 1045.0,611.3 1064.0,605.0C1081.7,599.1 1099.8,594.4 1118.0,590.0C1161.3,579.6 1206.0,576.4 1250.0,570.0C1286.9,564.6 1323.8,559.6 1360.6,554.4"/>
<path d="M866.0,753.0C871.3,743.7 875.7,733.7 882.0,725.0C888.7,715.8 896.6,707.6 905.0,700.0C912.6,693.0 920.7,686.5 929.5,681.0C942.2,673.0 956.7,668.3 970.6,662.8C988.9,655.6 1007.7,649.4 1026.6,644.0C1045.0,638.8 1063.8,634.9 1082.5,631.0C1107.2,625.9 1132.1,622.0 1157.0,618.0C1171.3,615.7 1185.6,613.3 1200.0,611.5C1224.9,608.3 1250.0,607.2 1275.0,605.0C1316.7,601.3 1358.3,597.6 1400.0,593.7C1446.7,589.3 1493.3,584.6 1540.0,580.0C1598.3,574.3 1656.6,568.0 1715.0,563.0C1748.3,560.1 1781.6,557.4 1815.0,555.0C1840.0,553.2 1865.0,551.4 1890.0,550.0C1901.5,549.3 1913.0,548.8 1924.5,548.2"/>
<path d="M1425.0,753.0C1446.7,746.3 1469.4,742.5 1490.0,733.0C1507.4,724.9 1525.0,716.1 1539.0,703.0C1549.2,693.4 1557.6,681.9 1565.0,670.0C1570.9,660.5 1574.0,649.4 1580.0,640.0C1587.3,628.6 1595.8,617.8 1606.0,609.0C1617.1,599.4 1630.7,592.9 1644.0,586.6C1658.7,579.6 1674.3,574.3 1690.0,570.0C1708.3,565.1 1727.2,562.7 1746.0,560.5C1764.7,558.3 1783.8,559.5 1802.5,556.8C1826.0,553.4 1848.7,546.2 1871.6,540.0C1901.3,532.0 1930.5,521.8 1960.0,513.0C1992.3,503.4 2024.7,494.2 2057.0,484.8"/>
<path d="M1489.0,536.0C1579.3,525.5 1669.7,515.6 1760.0,504.6C1828.4,496.2 1896.6,486.4 1965.0,478.5C1995.5,475.0 2026.1,471.8 2056.6,468.5"/>
<path d="M1806.0,529.0C1837.3,518.7 1868.2,506.9 1900.0,498.0C1921.5,492.0 1943.1,486.2 1965.0,482.0C1995.2,476.3 2026.1,475.0 2056.6,471.5"/>
<path d="M798.0,753.7C777.7,749.5 757.3,745.4 737.0,741.0C716.3,736.5 695.4,732.7 675.0,727.0C662.2,723.4 648.1,722.4 637.0,715.0C629.2,709.8 621.3,703.4 617.0,695.0C613.9,688.9 611.5,681.9 612.0,675.0C612.6,666.4 619.1,659.1 624.0,652.0C631.5,641.1 641.7,632.2 652.0,624.0C664.7,613.8 679.2,605.8 694.0,599.0C709.0,592.1 724.9,586.9 741.0,583.0C760.3,578.3 780.3,577.1 800.0,575.0C833.2,571.4 866.6,570.2 900.0,569.0C966.6,566.6 1033.3,570.2 1100.0,571.0C1146.7,571.6 1193.5,577.1 1240.0,573.0C1254.0,571.8 1268.8,572.8 1282.0,568.0C1295.1,563.2 1304.8,551.8 1317.0,545.0C1325.1,540.4 1333.3,535.9 1342.0,532.5C1361.8,524.8 1384.0,525.6 1405.0,522.5C1469.7,512.9 1534.9,506.7 1600.0,500.0C1653.3,494.5 1706.6,489.3 1760.0,485.0C1858.7,477.1 1957.7,474.2 2056.5,468.7"/>
</g>
<g fill="#191970" stroke="#191970" stroke-width="1" shape-rendering="crispEdges">
<polygon points="3348.0,33.0 3338.8,44.0 3333.9,35.7"/>
<polygon points="3378.0,33.0 3384.4,45.8 3374.9,47.0"/>
<polygon points="3404.0,33.0 3418.2,35.3 3413.6,43.7"/>
<polygon points="3467.0,32.0 3481.2,30.0 3479.3,39.4"/>
<polygon points="3492.0,108.0 3483.1,119.2 3478.0,111.1"/>
<polygon points="3544.0,108.0 3558.2,110.1 3553.7,118.6"/>
<polygon points="3287.0,20.5 3273.6,25.7 3273.4,16.1"/>
<polygon points="483.0,105.0 470.4,111.8 468.9,102.4"/>
<polygon points="485.0,108.0 473.2,116.1 470.7,106.8"/>
<polygon points="499.0,108.0 489.7,118.9 484.9,110.5"/>
<polygon points="557.0,108.0 570.7,112.3 564.9,119.9"/>
<polygon points="592.0,95.0 605.6,90.6 605.4,100.2"/>
<polygon points="239.0,182.0 230.7,193.7 225.2,185.8"/>
<polygon points="262.0,182.0 268.5,194.8 259.0,196.0"/>
<polygon points="559.0,182.0 548.8,192.1 544.7,183.4"/>
<polygon points="588.0,182.0 577.6,191.9 573.7,183.1"/>
<polygon points="622.0,182.0 619.1,196.0 610.9,191.1"/>
<polygon points="624.5,182.0 621.2,195.9 613.1,190.7"/>
<polygon points="649.0,182.0 661.2,189.6 653.7,195.6"/>
<polygon points="711.0,182.0 725.3,180.7 722.9,190.0"/>
<polygon points="719.0,182.0 733.1,179.6 731.5,189.0"/>
<polygon points="719.0,168.0 732.6,163.4 732.4,173.0"/>
<polygon points="719.0,170.0 732.7,165.9 732.2,175.5"/>
<polygon points="1046.0,257.0 1044.0,271.2 1035.5,266.8"/>
<polygon points="1066.0,257.0 1074.6,268.4 1065.5,271.3"/>
<polygon points="999.0,254.0 986.7,261.4 984.8,252.0"/>
<polygon points="1004.0,257.0 991.6,264.1 989.9,254.7"/>
<polygon points="1012.0,257.0 1001.0,266.1 997.7,257.1"/>
<polygon points="1027.0,257.0 1017.9,268.0 1012.9,259.8"/>
<polygon points="1105.0,257.0 1119.3,257.3 1115.9,266.3"/>
<polygon points="1116.0,244.0 1129.9,240.7 1128.9,250.3"/>
<polygon points="1116.0,246.0 1129.6,241.5 1129.4,251.1"/>
<polygon points="1116.0,247.0 1129.7,242.7 1129.3,252.3"/>
<polygon points="1116.0,248.0 1129.7,243.9 1129.2,253.5"/>
<polygon points="982.0,332.0 972.4,342.7 967.8,334.3"/>
<polygon points="1012.5,332.0 1017.3,345.5 1007.7,345.5"/>
<polygon points="1064.0,325.5 1078.0,322.5 1076.7,332.1"/>
<polygon points="1005.5,406.0 1004.5,420.3 995.7,416.4"/>
<polygon points="1049.0,401.0 1063.2,399.5 1061.0,408.8"/>
<polygon points="985.0,406.0 975.3,416.6 970.8,408.1"/>
<polygon points="976.0,401.0 963.5,407.9 961.9,398.5"/>
<polygon points="976.0,402.5 963.9,410.2 961.8,400.8"/>
<polygon points="1049.0,395.0 1062.8,391.1 1062.1,400.7"/>
<polygon points="912.0,479.5 899.5,486.5 897.9,477.0"/>
<polygon points="936.0,481.0 924.2,489.2 921.7,479.9"/>
<polygon points="984.0,481.0 989.6,494.2 980.1,494.8"/>
<polygon points="1045.0,471.0 1059.2,468.9 1057.3,478.4"/>
<polygon points="1045.0,474.0 1058.8,470.2 1058.1,479.7"/>
<polygon points="1045.0,476.0 1058.8,472.3 1058.1,481.9"/>
<polygon points="1045.0,478.0 1058.9,474.5 1058.0,484.1"/>
<polygon points="1270.0,469.0 1256.8,474.6 1256.2,465.0"/>
<polygon points="1270.0,475.0 1257.2,481.5 1256.0,472.0"/>
<polygon points="1301.0,481.0 1290.8,491.0 1286.7,482.3"/>
<polygon points="1391.0,470.0 1405.2,468.3 1403.1,477.7"/>
<polygon points="1391.0,466.0 1404.8,462.1 1404.1,471.7"/>
<polygon points="1391.0,472.0 1404.8,468.1 1404.1,477.7"/>
<polygon points="1391.0,474.0 1404.9,470.5 1404.0,480.0"/>
<polygon points="1391.0,481.0 1405.3,481.2 1402.0,490.2"/>
<polygon points="1049.0,396.0 1063.1,393.4 1061.6,402.9"/>
<polygon points="2070.0,466.0 2056.7,471.3 2056.3,461.7"/>
<polygon points="2081.0,481.0 2073.3,493.1 2067.4,485.5"/>
<polygon points="2062.0,480.0 2050.6,488.6 2047.7,479.5"/>
<polygon points="2122.5,481.0 2135.5,487.1 2128.7,493.9"/>
<polygon points="2137.0,479.0 2151.3,480.2 2147.3,489.0"/>
<polygon points="2137.0,475.0 2151.2,473.1 2149.2,482.5"/>
<polygon points="2137.0,467.0 2150.6,462.5 2150.4,472.1"/>
<polygon points="2137.0,468.0 2150.7,463.7 2150.3,473.3"/>
<polygon points="2137.0,469.0 2150.9,465.5 2150.0,475.0"/>
<polygon points="2137.0,470.0 2150.9,466.3 2150.1,475.9"/>
<polygon points="2137.0,468.5 2150.7,464.4 2150.2,474.0"/>
<polygon points="2864.0,556.0 2855.8,567.8 2850.2,560.0"/>
<polygon points="2897.0,556.0 2907.9,565.2 2899.7,570.1"/>
<polygon points="1415.0,556.0 1410.0,569.4 1402.7,563.3"/>
<polygon points="1441.0,556.0 1450.6,566.7 1441.7,570.3"/>
<polygon points="1485.0,556.0 1499.3,556.3 1495.9,565.3"/>
<polygon points="1374.0,553.0 1361.7,560.4 1359.8,551.0"/>
<polygon points="1374.0,554.0 1363.3,563.6 1359.7,554.7"/>
<polygon points="1374.0,552.0 1362.2,560.2 1359.7,550.9"/>
<polygon points="1489.0,548.0 1503.0,545.1 1501.7,554.6"/>
<polygon points="1489.0,546.0 1503.1,543.2 1501.6,552.7"/>
<polygon points="1489.0,545.0 1503.1,542.2 1501.7,551.7"/>
<polygon points="1489.0,547.0 1503.0,544.0 1501.8,553.5"/>
<polygon points="2066.0,556.0 2080.3,556.9 2076.5,565.7"/>
<polygon points="2066.0,556.0 2080.3,555.1 2077.7,564.3"/>
<polygon points="2066.0,556.0 2080.2,553.8 2078.4,563.2"/>
<polygon points="2067.0,554.0 2081.1,551.7 2079.4,561.2"/>
<polygon points="2067.0,545.0 2080.9,541.5 2080.0,551.1"/>
<polygon points="2066.0,556.0 2080.3,555.5 2077.4,564.6"/>
<polygon points="884.0,630.0 898.2,631.5 894.1,640.2"/>
<polygon points="1328.0,630.0 1318.0,640.2 1313.8,631.6"/>
<polygon points="1361.0,630.0 1365.4,643.6 1355.8,643.4"/>
<polygon points="1385.0,630.0 1398.7,634.2 1393.0,641.9"/>
<polygon points="1448.0,630.0 1462.1,627.5 1460.5,636.9"/>
<polygon points="1624.0,622.5 1610.8,628.1 1610.2,618.5"/>
<polygon points="1682.5,630.0 1684.2,644.2 1674.9,642.1"/>
<polygon points="1710.0,630.0 1723.3,635.4 1716.9,642.6"/>
<polygon points="1742.5,630.0 1756.8,628.7 1754.4,638.0"/>
<polygon points="1006.7,705.0 1011.1,718.6 1001.5,718.4"/>
<polygon points="1023.7,753.0 1019.0,739.4 1028.6,739.6"/>
<polygon points="1102.0,704.0 1089.1,710.3 1088.0,700.8"/>
<polygon points="1135.0,705.0 1122.0,711.1 1121.1,701.6"/>
<polygon points="1120.0,705.0 1107.8,712.5 1105.8,703.1"/>
<polygon points="1162.0,705.0 1151.5,714.8 1147.7,706.0"/>
<polygon points="1232.0,705.0 1246.2,706.6 1242.0,715.2"/>
<polygon points="1295.0,700.0 1308.8,696.3 1308.1,705.8"/>
<polygon points="1702.0,696.0 1688.8,701.6 1688.2,692.0"/>
<polygon points="1846.0,705.0 1860.3,703.5 1858.0,712.9"/>
<polygon points="1887.0,703.5 1900.8,699.7 1900.1,709.3"/>
<polygon points="949.0,481.0 939.8,491.9 934.9,483.7"/>
<polygon points="962.5,481.0 959.1,494.9 951.1,489.6"/>
<polygon points="2070.0,466.5 2056.7,471.9 2056.3,462.3"/>
<polygon points="971.0,481.0 970.8,495.3 961.8,492.0"/>
<polygon points="1270.0,481.0 1258.2,489.1 1255.7,479.8"/>
<polygon points="1374.0,549.5 1361.2,555.9 1360.0,546.3"/>
<polygon points="1374.0,550.0 1361.1,556.3 1360.0,546.8"/>
<polygon points="1374.0,551.0 1361.2,557.4 1360.0,547.9"/>
<polygon points="1374.0,552.5 1361.3,559.1 1360.0,549.6"/>
<polygon points="1938.0,547.5 1924.8,553.0 1924.3,543.4"/>
<polygon points="2070.0,481.0 2058.4,489.4 2055.7,480.2"/>
<polygon points="2070.0,467.0 2057.1,473.2 2056.1,463.7"/>
<polygon points="2070.0,470.0 2057.1,476.3 2056.0,466.8"/>
<polygon points="2070.0,468.0 2056.8,473.5 2056.3,463.9"/>
</g>
<g shape-rendering="crispEdges" stroke-width="1">
<rect x="3287.5" y="7.5" width="179" height="25" fill="#bfbfbf" stroke="#000"/>
<rect x="483.5" y="81.5" width="108" height="26" fill="#fff" stroke="#000"/>
<rect x="3147.5" y="81.5" width="194" height="26" fill="#fff" stroke="#000"/>
<rect x="3414.5" y="81.5" width="206" height="26" fill="#fff" stroke="#000"/>
<rect x="6.5" y="156.5" width="152" height="25" fill="#fff" stroke="#000"/>
<rect x="182.5" y="156.5" width="154" height="25" fill="#fff" stroke="#000"/>
<rect x="558.5" y="156.5" width="160" height="25" fill="#fff" stroke="#000"/>
<rect x="3264.5" y="156.5" width="259" height="25" fill="#fff" stroke="#000"/>
<rect x="3547.5" y="156.5" width="219" height="25" fill="#fff" stroke="#000"/>
<rect x="67.5" y="231.5" width="169" height="25" fill="#fff" stroke="#000"/>
<rect x="614.5" y="231.5" width="172" height="25" fill="#fff" stroke="#000"/>
<rect x="999.5" y="231.5" width="116" height="25" fill="#fff" stroke="#000"/>
<rect x="614.5" y="305.5" width="174" height="26" fill="#fff" stroke="#000"/>
<rect x="963.5" y="305.5" width="100" height="26" fill="#fff" stroke="#000"/>
<rect x="1675.5" y="305.5" width="157" height="26" fill="#fff" stroke="#000"/>
<rect x="810.5" y="380.5" width="114" height="25" fill="#fff" stroke="#000"/>
<rect x="976.5" y="380.5" width="72" height="25" fill="#fff" stroke="#000"/>
<rect x="912.5" y="455.5" width="132" height="25" fill="#fff" stroke="#000"/>
<rect x="1270.5" y="455.5" width="120" height="25" fill="#fff" stroke="#000"/>
<rect x="2070.5" y="455.5" width="66" height="25" fill="#fff" stroke="#000"/>
<rect x="563.5" y="529.5" width="88" height="26" fill="#fff" stroke="#000"/>
<rect x="675.5" y="529.5" width="140" height="26" fill="#fff" stroke="#000"/>
<rect x="1091.5" y="529.5" width="157" height="26" fill="#fff" stroke="#ff0000"/>
<rect x="1374.5" y="529.5" width="114" height="26" fill="#fff" stroke="#000"/>
<rect x="1675.5" y="529.5" width="131" height="26" fill="#fff" stroke="#000"/>
<rect x="1938.5" y="529.5" width="128" height="26" fill="#fff" stroke="#ff0000"/>
<rect x="2242.5" y="529.5" width="74" height="26" fill="#fff" stroke="#000"/>
<rect x="2340.5" y="529.5" width="224" height="26" fill="#fff" stroke="#000"/>
<rect x="2791.5" y="529.5" width="191" height="26" fill="#fff" stroke="#000"/>
<rect x="816.5" y="604.5" width="82" height="25" fill="#fff" stroke="#ff0000"/>
<rect x="1275.5" y="604.5" width="175" height="25" fill="#fff" stroke="#ff0000"/>
<rect x="1624.5" y="604.5" width="128" height="25" fill="#fff" stroke="#000"/>
<rect x="1979.5" y="604.5" width="147" height="25" fill="#fff" stroke="#000"/>
<rect x="2352.5" y="604.5" width="96" height="25" fill="#fff" stroke="#000"/>
<rect x="2472.5" y="604.5" width="134" height="25" fill="#fff" stroke="#000"/>
<rect x="2731.5" y="604.5" width="81" height="25" fill="#fff" stroke="#000"/>
<rect x="2835.5" y="604.5" width="204" height="25" fill="#fff" stroke="#000"/>
<rect x="635.5" y="679.5" width="87" height="25" fill="#fff" stroke="#000"/>
<rect x="947.5" y="679.5" width="131" height="25" fill="#fff" stroke="#ff0000"/>
<rect x="1102.5" y="679.5" width="192" height="25" fill="#fff" stroke="#ff0000"/>
<rect x="1419.5" y="679.5" width="108" height="25" fill="#fff" stroke="#000"/>
<rect x="1702.5" y="679.5" width="184" height="25" fill="#fff" stroke="#ff0000"/>
<rect x="1910.5" y="679.5" width="140" height="25" fill="#fff" stroke="#000"/>
<rect x="322.5" y="753.5" width="206" height="26" fill="#fff" stroke="#000"/>
<rect x="646.5" y="753.5" width="129" height="26" fill="#fff" stroke="#000"/>
<rect x="798.5" y="753.5" width="122" height="26" fill="#fff" stroke="#000"/>
<rect x="944.5" y="753.5" width="144" height="26" fill="#fff" stroke="#000"/>
<rect x="1258.5" y="753.5" width="198" height="26" fill="#fff" stroke="#000"/>
<rect x="1987.5" y="753.5" width="199" height="26" fill="#fff" stroke="#000"/>
<rect x="2839.5" y="753.5" width="143" height="26" fill="#fff" stroke="#000"/>
</g>
<g>
<text x="3297.8" y="23.8">Persistent_File_Allocator.h</text>
<text x="493.8" y="98.8">Routing_Slip.h</text>
<text x="3157.8" y="98.8">Persistent_File_Allocator.cpp</text>
<text x="3424.8" y="98.8">Standard_Event_Persistence.h</text>
<text x="16.8" y="172.8">Delivery_Request.cpp</text>
<text x="192.8" y="172.8">Routing_Slip_Queue.h</text>
<text x="568.8" y="172.8">EventChannelFactory.h</text>
<text x="3274.8" y="172.8">Routing_Slip_Persistence_Manager.cpp</text>
<text x="3557.8" y="172.8">Standard_Event_Persistence.cpp</text>
<text x="77.8" y="247.8">Routing_Slip_Queue.cpp</text>
<text x="624.8" y="247.8">Validate_Client_Task.cpp</text>
<text x="1009.8" y="247.8">EventChannel.h</text>
<text x="624.8" y="322.8">EventChannelFactory.cpp</text>
<text x="973.8" y="322.8">FilterAdmin.h</text>
<text x="1685.8" y="322.8">CosNotify_Service.cpp</text>
<text x="820.8" y="396.8">FilterAdmin.cpp</text>
<text x="986.8" y="396.8">Admin.h</text>
<text x="922.8" y="471.8">ConsumerAdmin.h</text>
<text x="1280.8" y="471.8">SupplierAdmin.h</text>
<text x="2080.8" y="471.8">Proxy.h</text>
<text x="573.8" y="546.8">Builder.cpp</text>
<text x="685.8" y="546.8">Default_Factory.cpp</text>
<text x="1101.8" y="546.8">ProxyConsumer_T.cpp</text>
<text x="1384.8" y="546.8">ProxySupplier.h</text>
<text x="1685.8" y="546.8">EventChannel.cpp</text>
<text x="1948.8" y="546.8">ProxyConsumer.h</text>
<text x="2252.8" y="546.8">Peer.cpp</text>
<text x="2350.8" y="546.8">Subscription_Change_Worker.cpp</text>
<text x="2801.8" y="546.8">Method_Request_Updates.h</text>
<text x="826.8" y="620.8">Proxy_T.h</text>
<text x="1285.8" y="620.8">Method_Request_Event.h</text>
<text x="1634.8" y="620.8">Consumer_Map.h</text>
<text x="1989.8" y="620.8">ConsumerAdmin.cpp</text>
<text x="2362.8" y="620.8">Supplier.cpp</text>
<text x="2482.8" y="620.8">SupplierAdmin.cpp</text>
<text x="2741.8" y="620.8">Proxy.cpp</text>
<text x="2845.8" y="620.8">Method_Request_Updates.cpp</text>
<text x="645.8" y="695.8">Admin.cpp</text>
<text x="957.8" y="695.8">ProxySupplier_T.h</text>
<text x="1112.8" y="695.8">Method_Request_Dispatch.h</text>
<text x="1429.8" y="695.8">Consumer.cpp</text>
<text x="1712.8" y="695.8">Method_Request_Lookup.h</text>
<text x="1920.8" y="695.8">Event_Manager.cpp</text>
<text x="332.8" y="770.8">Method_Request_Dispatch.cpp</text>
<text x="656.8" y="770.8">ProxySupplier.cpp</text>
<text x="808.8" y="770.8">Routing_Slip.cpp</text>
<text x="954.8" y="770.8">ProxySupplier_T.cpp</text>
<text x="1268.8" y="770.8">SequencePushConsumer.cpp</text>
<text x="1997.8" y="770.8">Method_Request_Lookup.cpp</text>
<text x="2849.8" y="770.8">ProxyConsumer.cpp</text>
</g>
</svg></body></html>
